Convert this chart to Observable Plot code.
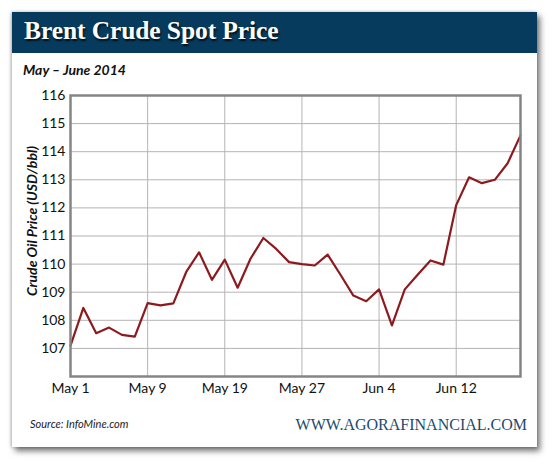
<!DOCTYPE html>
<html>
<head>
<meta charset="utf-8">
<script src="https://cdn.jsdelivr.net/npm/d3@7"></script>
<script src="https://cdn.jsdelivr.net/npm/@observablehq/plot@0.6"></script>
<style>
  html, body { margin:0; padding:0; background:#fff; width:554px; height:467px; overflow:hidden; }
  #panel { position:absolute; left:12px; top:12px; width:525px; height:435px; background:#fff;
           box-shadow: 3px 4px 6px rgba(0,0,0,0.55), -1px 0 3px rgba(0,0,0,0.25); }
  #header { position:absolute; left:12px; top:12px; width:525px; height:41px; background:#073b5d; }
  #title { position:absolute; left:24px; top:16px; font-family:"Liberation Serif", serif; font-weight:bold;
           font-size:25.5px; letter-spacing:-0.1px; color:#fff; text-shadow: 1px 2px 2px rgba(0,0,0,0.8); white-space:nowrap; }
  #subtitle { position:absolute; left:23px; top:61px; font-family:Lato, sans-serif; font-weight:bold; font-style:italic;
              font-size:14px; color:#111; white-space:nowrap; }
  #ylabel { position:absolute; left:31px; top:221px; transform: translate(-50%,-50%) rotate(-90deg);
            font-family:Lato, sans-serif; font-weight:bold; font-style:italic; font-size:14px; color:#111; white-space:nowrap; }
  #chart { position:absolute; left:0; top:80px; }
  #source { position:absolute; left:30px; top:417px; font-family:Lato, sans-serif; font-style:italic; font-size:11px; color:#222; }
  #brand { position:absolute; right:27px; top:416px; font-family:"Liberation Serif", serif; font-size:16px; color:#1c4a6e; letter-spacing:0px; }
</style>
</head>
<body>
<div id="panel"></div>
<div id="header"></div>
<div id="title">Brent Crude Spot Price</div>
<div id="subtitle">May – June 2014</div>
<div id="ylabel">Crude Oil Price (USD/bbl)</div>
<div id="chart"></div>
<div id="source">Source: InfoMine.com</div>
<div id="brand">WWW.AGORAFINANCIAL.COM</div>
<script>
// Trading-day index (0 = May 1, 35 = last day shown)
const prices = [107.1, 108.44, 107.54, 107.74, 107.48, 107.42, 108.61, 108.53, 108.6, 109.72,
                110.42, 109.44, 110.16, 109.16, 110.19, 110.93, 110.54, 110.07, 110.0, 109.95,
                110.34, 109.62, 108.88, 108.68, 109.1, 107.82, 109.1, 109.62, 110.13, 109.98,
                112.1, 113.09, 112.88, 113.0, 113.59, 114.58];
const xTicks = [0, 6, 12, 18, 24, 30];
const xTickLabels = ["May 1", "May 9", "May 19", "May 27", "Jun 4", "Jun 12"];
const yTicks = [107, 108, 109, 110, 111, 112, 113, 114, 115, 116];

const data = prices.map((p, i) => ({i, p}));
const fmtX = v => xTickLabels[xTicks.indexOf(v)];

const chart = Plot.plot({
  width: 554, height: 330,
  marginLeft: 70, marginRight: 34, marginTop: 15, marginBottom: 34,
  style: {fontFamily: "Lato, sans-serif", fontSize: "14px", color: "#111", background: "transparent"},
  x: {domain: [0, prices.length - 1], label: null},
  y: {domain: [106, 116], label: null},
  marks: [
    Plot.gridX(xTicks, {stroke: "#b4b4b4", strokeOpacity: 1, strokeWidth: 1}),
    Plot.gridY(yTicks, {stroke: "#b4b4b4", strokeOpacity: 1, strokeWidth: 1}),
    Plot.axisX(xTicks, {tickSize: 0, tickPadding: 7, tickFormat: fmtX, label: null, fontSize: 14}),
    Plot.axisY(yTicks, {tickSize: 0, tickPadding: 5, label: null, fontSize: 14}),
    Plot.line(data, {x: "i", y: "p", stroke: "#8c1a1e", strokeWidth: 2.2}),
    Plot.frame({stroke: "#858585", strokeWidth: 2.5})
  ]
});
document.getElementById("chart").appendChild(chart);
</script>
</body>
</html>
